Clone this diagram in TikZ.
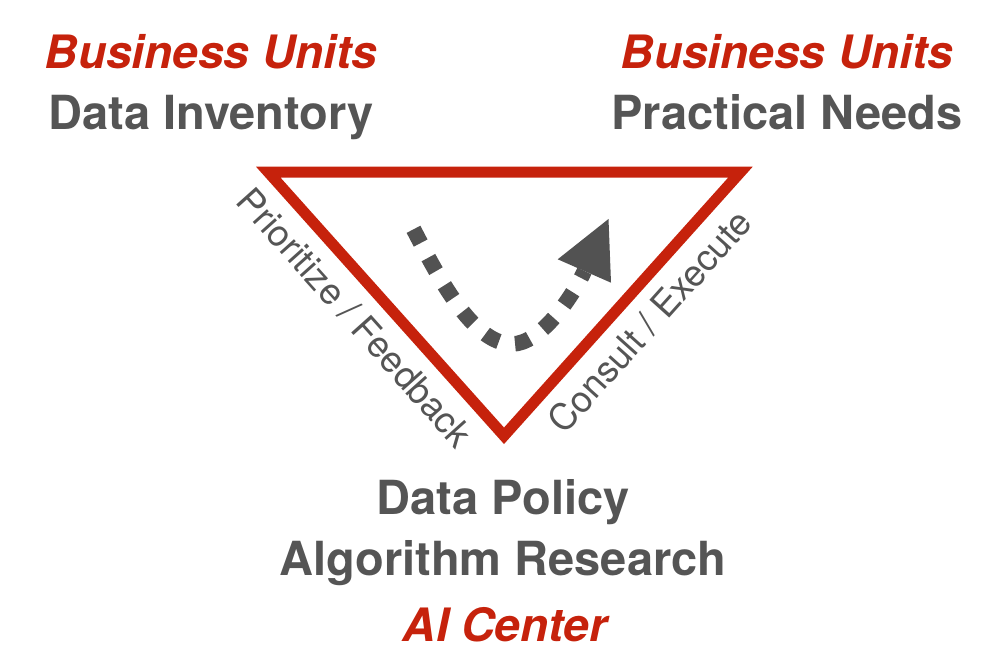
\documentclass[tikz,border=0pt]{standalone}
\usepackage{fontspec}
\setmainfont{TeX Gyre Heros}
\usetikzlibrary{calc}
\definecolor{bured}{RGB}{198,34,12}
\definecolor{txtgray}{RGB}{85,85,85}
\definecolor{arrgray}{RGB}{82,82,82}
\tikzset{
  redtxt/.style={text=bured, font=\fontsize{46}{55}\selectfont\bfseries\itshape, inner sep=0pt},
  graytxt/.style={text=txtgray, font=\fontsize{47}{56}\selectfont\bfseries, inner sep=0pt},
  sidelbl/.style={text=txtgray, font=\fontsize{36.5}{42}\selectfont, inner sep=0pt, anchor=base},
  triline/.style={draw=bured, line width=11pt, line join=miter, miter limit=10},
  dotline/.style={draw=arrgray, line width=15.5pt, line cap=butt, dash pattern=on 15.5pt off 16.5pt},
  headfill/.style={fill=arrgray}
}
\begin{document}
\begin{tikzpicture}[x=1pt,y=-1pt]
\useasboundingbox (0,0) rectangle (1000,660);
% triangle corners (stroke centreline)
\coordinate (TL) at (268.3,172.2);
\coordinate (TR) at (740.4,172.2);
\coordinate (BOT) at (504,435.8);
\draw[triline] (TL) -- (TR) -- (BOT) -- cycle;

% side labels
\coordinate (pL) at ($(TL)!0.47!(BOT)$);
\coordinate (qL) at ($(pL)!45pt!-90:(BOT)$);
\node[sidelbl, rotate=-48.2] (pf) at (qL) {Prioritize / Feedback};
\coordinate (pR) at ($(BOT)!0.516!(TR)$);
\coordinate (qR) at ($(pR)!45pt!-90:(TR)$);
\node[sidelbl, rotate=48.1] (ce) at (qR) {Consult / Execute};

% dotted arrow
\coordinate (S) at (413.5,229.3);
\coordinate (M) at (512,344);
\coordinate (E) at (584.4,271);
\coordinate (tip) at (608.5,219);
\coordinate (hl) at (557.7,259.3);
\coordinate (hr) at (611,282.7);
\draw[dotline] (S) .. controls (436.5,273.5) and (472,344) .. (M)
  .. controls (540,344) and (571.8,298.2) .. (E);
\fill[headfill] (tip) -- (hl) -- (hr) -- cycle;

% texts
\node[redtxt, anchor=base] (bu1) at (211,69) {Business Units};
\node[graytxt, anchor=base] (di) at (211,130) {Data Inventory};
\node[redtxt, anchor=base] (bu2) at (787,69) {Business Units};
\node[graytxt, anchor=base] (pn) at (787,130) {Practical Needs};
\node[graytxt, anchor=base] (dp) at (503,514.5) {Data Policy};
\node[graytxt, anchor=base] (ar) at (503,575) {Algorithm Research};
\node[redtxt, anchor=base] (aic) at (505,641) {AI Center};
\end{tikzpicture}
\end{document}
